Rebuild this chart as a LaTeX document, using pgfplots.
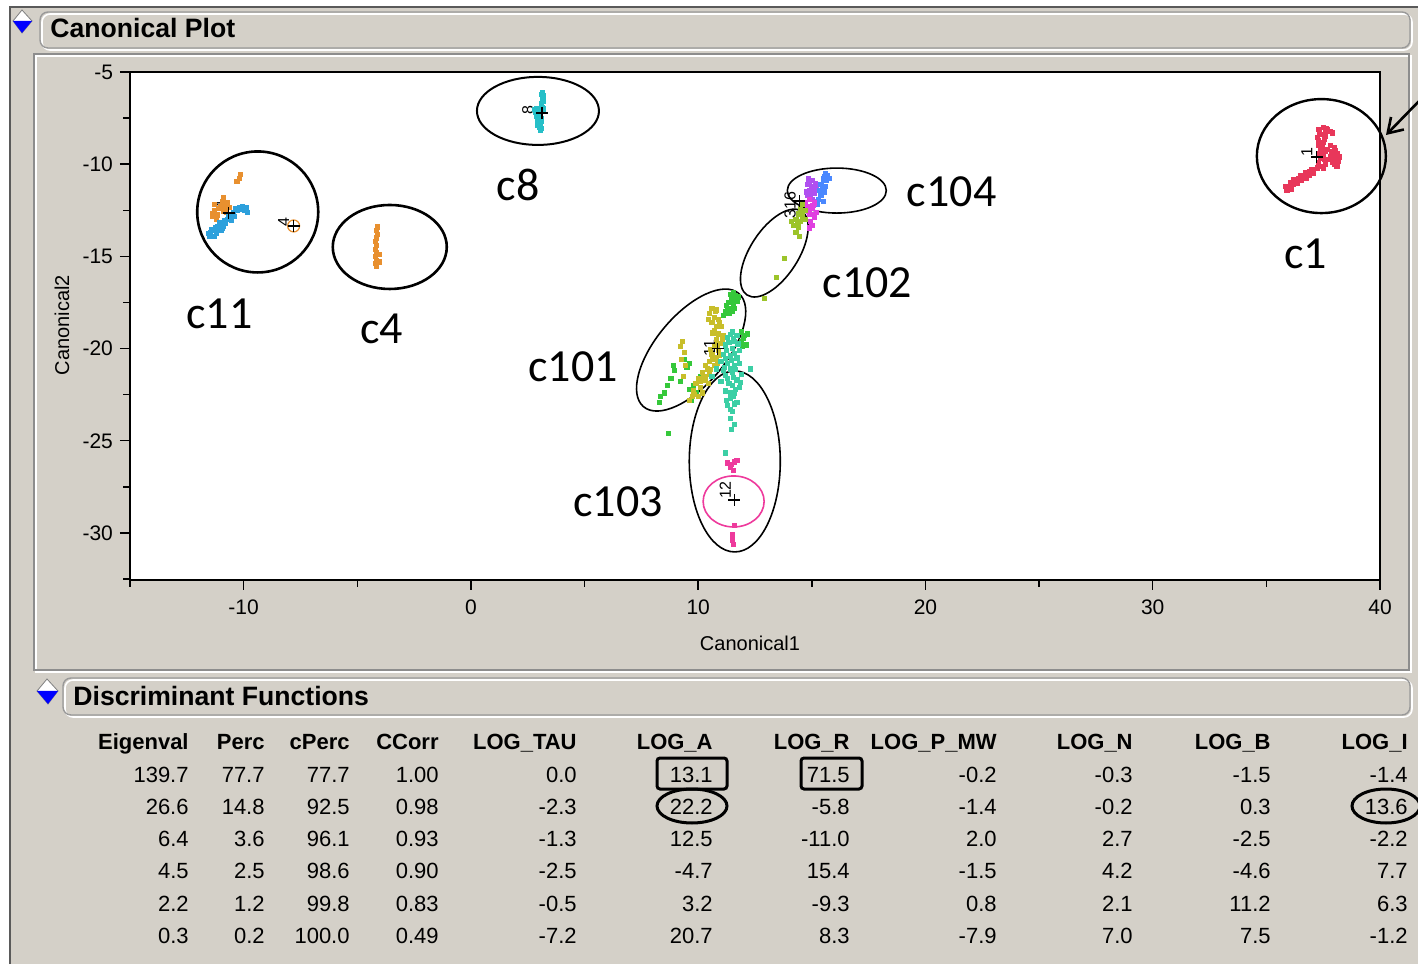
\documentclass[border=0pt]{standalone}
\usepackage{fontspec}
\setmainfont{Liberation Sans}
\newfontfamily\calib{Carlito}
\usepackage{pgfplots}
\pgfplotsset{compat=1.18}
\usetikzlibrary{shapes.geometric,arrows.meta}
\definecolor{jmpgray}{HTML}{D4D0C8}
\definecolor{jmpdark}{HTML}{808080}
\definecolor{jmpblue}{HTML}{0000FF}
\definecolor{cRed}{HTML}{E8375A}
\definecolor{cOrange}{HTML}{E8902F}
\definecolor{cBlue}{HTML}{2DA0DC}
\definecolor{cCyan}{HTML}{26BFC8}
\definecolor{cPurple}{HTML}{B050F0}
\definecolor{cBlue2}{HTML}{4A88FF}
\definecolor{cMagenta}{HTML}{E040E0}
\definecolor{cYgreen}{HTML}{9CC42A}
\definecolor{cGreen}{HTML}{35C83A}
\definecolor{cOlive}{HTML}{C8BE2A}
\definecolor{cTeal}{HTML}{3CCFA5}
\definecolor{cPink}{HTML}{EE3A9C}
\newcommand{\tabfont}{\fontsize{11}{13}\selectfont}
\newcommand{\annfont}{\calib\fontsize{23}{25}\selectfont}
\begin{document}
\begin{tikzpicture}
\useasboundingbox (0,0) rectangle (709pt,482pt);
\fill[white] (0,0) rectangle (709pt,482pt);
\begin{scope}[x=0.5pt,y=-0.5pt,shift={(0pt,482pt)}]
  \fill[jmpgray] (10,7) rectangle (1418,964);
  \draw[line width=1pt, color=jmpdark!70!black] (10,964) -- (10,7) -- (1418,7);
  % header 1
  \draw[rounded corners=4pt, draw=white, line width=0.8pt] (42,14) rectangle (1412,50);
  \draw[rounded corners=4pt, draw=jmpdark!80, line width=0.7pt] (40,12) rectangle (1410,48);
  \node[anchor=base west, inner sep=0pt, font=\bfseries\fontsize{13.3}{15}\selectfont] at (50,38) {Canonical Plot};
  % icon 1
  \filldraw[fill=white, draw=jmpdark, line width=0.4pt] (22,10) -- (32,21) -- (22,33) -- (13,21) -- cycle;
  \fill[jmpblue] (13,21) -- (32,21) -- (22,33) -- cycle;
  % plot panel
  \draw[draw=white, line width=1pt] (36,56) rectangle (1411,672);
  \draw[draw=jmpdark!90, line width=0.8pt] (34,54) rectangle (1409,670);
  % header 2
  \draw[rounded corners=4pt, draw=white, line width=0.8pt] (65,680) rectangle (1412,717);
  \draw[rounded corners=4pt, draw=jmpdark!80, line width=0.7pt] (63,678) rectangle (1410,715);
  \node[anchor=base west, inner sep=0pt, font=\bfseries\fontsize{13.3}{15}\selectfont] at (73,706) {Discriminant Functions};
  \filldraw[fill=white, draw=jmpdark, line width=0.4pt] (47,679) -- (58,691) -- (48,704) -- (37,691) -- cycle;
  \fill[jmpblue] (37,691) -- (58,691) -- (48,704) -- cycle;
  % table headers
  \def\colpos{{189,265,350,439,577,713,850,997,1133,1271,1408}}
  \foreach \h [count=\i] in {Eigenval,Perc,cPerc,CCorr,LOG\_TAU,LOG\_A,LOG\_R,LOG\_P\_MW,LOG\_N,LOG\_B,LOG\_I} {
    \pgfmathsetmacro\xx{\colpos[\i-1]}
    \node[anchor=base east, inner sep=0pt, font=\bfseries\tabfont] at (\xx,750) {\h};
  }
  \foreach \v [count=\i] in {139.7,77.7,77.7,1.00,0.0,13.1,71.5,-0.2,-0.3,-1.5,-1.4} {
    \pgfmathsetmacro\xx{\colpos[\i-1]}
    \node[anchor=base east, inner sep=0pt, font=\tabfont] at (\xx,782) {\v};
  }
  \foreach \v [count=\i] in {26.6,14.8,92.5,0.98,-2.3,22.2,-5.8,-1.4,-0.2,0.3,13.6} {
    \pgfmathsetmacro\xx{\colpos[\i-1]}
    \node[anchor=base east, inner sep=0pt, font=\tabfont] at (\xx,814) {\v};
  }
  \foreach \v [count=\i] in {6.4,3.6,96.1,0.93,-1.3,12.5,-11.0,2.0,2.7,-2.5,-2.2} {
    \pgfmathsetmacro\xx{\colpos[\i-1]}
    \node[anchor=base east, inner sep=0pt, font=\tabfont] at (\xx,846) {\v};
  }
  \foreach \v [count=\i] in {4.5,2.5,98.6,0.90,-2.5,-4.7,15.4,-1.5,4.2,-4.6,7.7} {
    \pgfmathsetmacro\xx{\colpos[\i-1]}
    \node[anchor=base east, inner sep=0pt, font=\tabfont] at (\xx,878) {\v};
  }
  \foreach \v [count=\i] in {2.2,1.2,99.8,0.83,-0.5,3.2,-9.3,0.8,2.1,11.2,6.3} {
    \pgfmathsetmacro\xx{\colpos[\i-1]}
    \node[anchor=base east, inner sep=0pt, font=\tabfont] at (\xx,911) {\v};
  }
  \foreach \v [count=\i] in {0.3,0.2,100.0,0.49,-7.2,20.7,8.3,-7.9,7.0,7.5,-1.2} {
    \pgfmathsetmacro\xx{\colpos[\i-1]}
    \node[anchor=base east, inner sep=0pt, font=\tabfont] at (\xx,943) {\v};
  }
  % table highlights
  \draw[line width=1.5pt, rounded corners=1.5pt] (657,758) rectangle (727,789);
  \draw[line width=1.5pt, rounded corners=1.5pt] (801,758) rectangle (862,789);
  \draw[line width=1.5pt] (692,806) ellipse [x radius=35, y radius=17];
  \draw[line width=1.5pt] (1386,806) ellipse [x radius=34, y radius=17];
  % arrow
  \draw[line width=1.3pt, -{Straight Barb[length=7pt,width=9pt]}] (1422,98) -- (1386,135);
\end{scope}

\begin{axis}[at={(65pt,192pt)}, anchor=south west, scale only axis,
  width=625pt, height=254pt,
  xmin=-15, xmax=40, ymin=-32.55, ymax=-5,
  axis background/.style={fill=white},
  axis line style={black, line width=0.8pt},
  xtick={-10,0,10,20,30,40}, minor xtick={-15,-5,5,15,25,35},
  ytick={-30,-25,-20,-15,-10,-5}, minor ytick={-32.5,-27.5,-22.5,-17.5,-12.5,-7.5},
  tick pos=left, tick align=outside, major tick length=5pt, minor tick length=3.5pt,
  tick style={black, line width=0.7pt},
  /pgf/number format/assume math mode=true,
  ticklabel style={font=\fontsize{10.5}{12}\selectfont},
  xticklabel style={yshift=-1.5pt},
  xlabel={Canonical1}, ylabel={Canonical2},
  label style={font=\fontsize{10}{12}\selectfont},
  xlabel style={at={(axis description cs:0.496,-0.124)}, anchor=center},
  ylabel style={at={(axis description cs:-0.0544,0.502)}, anchor=center},
  clip=false,
  only marks, mark=square*, mark size=1.05pt,
]
% c1 red
\addplot[cRed, mark=square*] coordinates {
(37.3,-8.1)(37.5,-8.0)(37.7,-8.1)(37.9,-8.3)(37.4,-8.4)(37.6,-8.5)(37.3,-8.7)(37.5,-8.8)
(37.3,-9.0)(37.4,-9.2)(37.3,-9.4)(37.5,-9.5)(37.4,-9.7)(37.3,-9.9)(37.4,-10.1)(37.6,-10.0)
(37.8,-9.0)(38.0,-9.1)(37.9,-9.3)(38.1,-9.4)(37.8,-9.6)(38.0,-9.7)(38.2,-9.6)(37.9,-9.9)
(38.1,-10.1)(37.7,-9.2)(37.6,-8.3)(37.8,-8.2)
(37.25,-8.55)(37.55,-8.65)(37.45,-9.05)(37.6,-9.3)(37.55,-9.75)(37.5,-10.2)(37.85,-9.45)
(38.05,-9.25)(37.95,-9.75)(38.15,-9.85)(38.0,-10.0)(37.7,-9.75)(37.25,-10.2)(37.35,-8.25)(37.65,-8.05)
(35.9,-11.4)(36.0,-11.2)(36.1,-11.0)(36.2,-11.1)(36.3,-10.9)(36.4,-10.8)(36.5,-10.6)
(36.6,-10.7)(36.8,-10.5)(36.9,-10.4)(37.0,-10.3)(36.9,-10.6)(36.0,-11.3)(36.5,-10.9)
(36.05,-11.0)(36.2,-10.85)(36.35,-11.05)(36.55,-10.85)(36.7,-10.45)(36.75,-10.75)(37.05,-10.5)
(35.85,-11.2)(36.1,-11.35)
};
% c8 cyan
\addplot[cCyan, mark=square*] coordinates {
(3.15,-6.1)(3.2,-6.3)(3.15,-6.5)(3.1,-6.7)(3.15,-6.9)(3.1,-7.1)(3.05,-7.3)(3.1,-7.5)
(3.0,-7.6)(3.05,-7.8)(3.0,-8.0)(3.05,-8.15)(2.9,-7.0)(2.85,-7.2)(2.9,-7.4)(3.2,-7.0)(2.95,-7.7)
(3.1,-6.2)(3.2,-6.6)(3.1,-6.85)(3.0,-7.45)(3.1,-7.7)(2.95,-7.9)(3.1,-8.05)(2.8,-7.05)
};
% c4 and c11 orange
\addplot[cOrange, mark=square*] coordinates {
(-4.1,-13.4)(-4.15,-13.6)(-4.1,-13.8)(-4.15,-14.0)(-4.2,-14.2)(-4.15,-14.4)(-4.2,-14.6)
(-4.15,-14.8)(-4.2,-15.0)(-4.15,-15.2)(-4.2,-15.4)(-4.15,-15.55)(-4.05,-14.9)(-4.05,-15.3)
(-10.15,-10.55)(-10.2,-10.75)(-10.3,-10.95)
(-10.9,-11.8)(-10.95,-12.0)(-10.8,-12.2)(-10.85,-12.4)(-10.7,-12.1)(-11.0,-12.3)(-10.75,-12.6)
(-11.3,-12.5)(-11.35,-12.8)(-11.2,-13.0)(-11.3,-12.2)
(-11.1,-12.4)(-10.95,-12.15)(-10.65,-12.35)(-11.35,-12.65)(-11.15,-12.75)(-10.9,-12.55)
};
% c11 blue
\addplot[cBlue, mark=square*] coordinates {
(-11.5,-13.9)(-11.45,-13.7)(-11.3,-13.6)(-11.2,-13.75)(-11.15,-13.4)(-11.0,-13.3)(-10.95,-13.5)
(-10.8,-13.2)(-10.7,-13.0)(-10.6,-12.9)(-10.5,-12.75)(-10.45,-12.6)(-10.3,-12.5)(-10.2,-12.35)
(-10.1,-12.45)(-9.95,-12.5)(-9.85,-12.6)(-10.05,-12.3)(-11.3,-13.9)(-11.0,-13.6)
(-11.4,-13.55)(-11.25,-13.45)(-11.05,-13.15)(-10.9,-13.35)(-10.85,-13.05)(-10.65,-12.75)
(-10.55,-13.05)(-10.4,-12.85)(-10.35,-12.4)(-10.0,-12.4)(-9.9,-12.35)(-11.55,-13.75)(-11.1,-13.55)
};
% c104 purple
\addplot[cPurple, mark=square*] coordinates {
(14.85,-10.8)(15.0,-10.9)(14.8,-11.1)(15.0,-11.2)(15.2,-11.3)(14.9,-11.4)(15.1,-11.6)
(14.8,-11.7)(15.0,-11.9)(15.2,-12.0)(14.75,-11.5)(15.15,-11.05)(14.9,-11.0)(15.1,-11.4)(14.95,-11.65)
};
% c104 blue
\addplot[cBlue2, mark=square*] coordinates {
(15.6,-10.5)(15.7,-10.6)(15.5,-10.8)(15.65,-10.9)(15.4,-11.1)(15.6,-11.2)(15.35,-11.4)
(15.55,-11.5)(15.4,-11.7)(15.3,-11.9)(15.5,-12.0)(15.25,-12.2)(15.75,-10.75)(15.45,-11.3)(15.55,-10.65)
};
% c104 magenta
\addplot[cMagenta, mark=square*] coordinates {
(14.9,-11.9)(15.1,-12.1)(14.8,-12.3)(15.0,-12.4)(15.2,-12.6)(14.9,-12.7)(15.1,-12.9)
(14.95,-13.1)(15.0,-13.3)(14.9,-13.45)(14.7,-12.1)(15.05,-12.25)(14.85,-12.55)(15.1,-12.75)
};
% c102 yellow-green
\addplot[cYgreen, mark=square*] coordinates {
(14.6,-12.2)(14.5,-12.4)(14.7,-12.5)(14.4,-12.7)(14.6,-12.8)(14.3,-13.0)(14.5,-13.1)
(14.7,-13.0)(14.2,-13.3)(14.4,-13.4)(14.3,-13.7)(14.45,-13.9)(14.1,-13.1)(14.55,-12.6)(14.35,-13.25)
(13.79,-15.09)(13.44,-16.12)(12.91,-17.26)
};
% c101 green
\addplot[cGreen, mark=square*] coordinates {
(11.55,-16.95)(11.65,-17.1)(11.45,-17.2)(11.6,-17.35)(11.35,-17.5)(11.55,-17.6)(11.3,-17.8)
(11.2,-18.0)(11.5,-18.0)(11.1,-18.2)(11.9,-19.1)(12.05,-19.3)(12.15,-19.2)(11.9,-19.6)(12.1,-19.8)
(11.4,-17.05)(11.7,-17.45)(11.25,-17.65)(11.45,-17.85)(11.35,-18.1)(11.75,-17.2)(11.6,-17.8)
(12.0,-19.45)(11.95,-19.9)
(9.4,-20.6)(9.6,-20.8)(8.9,-20.9)(8.95,-21.2)(9.5,-21.0)(8.8,-21.6)(9.2,-21.8)(8.65,-22.0)
(8.5,-22.4)(8.35,-22.6)(8.3,-22.9)(9.6,-22.2)(9.8,-22.0)(9.9,-22.4)(9.7,-22.8)(10.1,-21.5)
(8.68,-24.58)
};
% c101 olive
\addplot[cOlive, mark=square*] coordinates {
(10.6,-17.8)(10.8,-17.9)(10.5,-18.1)(10.7,-18.3)(10.9,-18.4)(10.6,-18.6)(10.8,-18.8)
(10.7,-19.0)(10.9,-19.2)(11.1,-19.3)(10.8,-19.5)(11.0,-19.7)(10.7,-19.9)(10.9,-20.1)
(10.6,-20.3)(10.8,-20.5)(10.5,-20.7)(10.7,-20.9)(10.4,-21.1)(10.2,-21.3)(10.5,-21.4)
(10.0,-21.6)(10.3,-21.7)(9.9,-21.9)(10.1,-22.1)(9.8,-22.3)(10.0,-22.6)(9.6,-22.8)
(9.3,-19.6)(9.2,-19.9)(9.4,-20.2)(9.25,-20.6)(9.45,-20.9)(9.35,-21.5)
(10.75,-18.0)(10.95,-18.6)(10.65,-19.15)(11.05,-19.5)(10.85,-19.8)(10.55,-20.05)(10.95,-20.35)
(10.65,-20.6)(10.85,-20.8)(10.3,-20.9)(10.55,-21.15)(10.25,-21.5)(10.1,-21.8)(10.45,-21.9)
(9.85,-22.5)(10.2,-22.4)(9.75,-22.6)(11.0,-18.8)(10.45,-18.4)
};
% c101/c103 teal
\addplot[cTeal, mark=square*] coordinates {
(11.5,-19.1)(11.7,-19.3)(11.3,-19.4)(11.6,-19.6)(11.2,-19.8)(11.5,-20.0)(11.8,-20.1)
(11.1,-20.3)(11.4,-20.4)(11.7,-20.5)(11.0,-20.7)(11.3,-20.8)(11.6,-20.9)(10.8,-21.1)
(11.1,-21.2)(11.5,-21.3)(11.9,-21.4)(11.3,-21.6)(11.7,-21.7)(11.0,-21.8)(11.5,-22.0)
(11.8,-22.1)(11.2,-22.3)(11.6,-22.4)(11.4,-22.7)(11.7,-22.9)(11.3,-23.1)(11.5,-23.4)
(11.4,-23.8)(11.6,-24.1)(11.45,-24.4)(11.19,-25.66)(12.3,-21.1)(10.6,-21.5)
(11.4,-19.25)(11.55,-19.45)(11.35,-19.65)(11.75,-19.75)(11.25,-20.1)(11.6,-20.25)(11.2,-20.55)
(11.45,-20.65)(11.8,-20.8)(11.15,-21.0)(11.4,-21.1)(11.65,-21.15)(11.2,-21.45)(11.55,-21.55)
(11.85,-21.85)(11.35,-21.9)(11.65,-22.2)(11.4,-22.4)(11.55,-22.6)(11.25,-22.8)(11.6,-23.0)(11.4,-23.3)
};
% c103 pink
\addplot[cPink, mark=square*] coordinates {
(11.3,-26.2)(11.45,-26.3)(11.6,-26.15)(11.4,-26.45)(11.55,-26.6)(11.7,-26.05)
(11.6,-29.6)(11.5,-30.1)(11.5,-30.4)(11.55,-30.6)
};
% group means
\addplot[black, mark=+, mark size=3pt, mark options={line width=0.6pt}] coordinates {
(37.22,-9.61)(-10.66,-12.65)(-7.80,-13.35)(3.13,-7.22)(14.45,-12.0)(10.85,-20.0)(11.59,-28.21)
};
% JMP group circles
\node[draw=cPink, line width=0.8pt, ellipse, minimum width=30.5pt, minimum height=25.5pt, inner sep=0pt] at (axis cs:11.56,-28.29) {};
\node[draw=cOrange, line width=0.6pt, circle, minimum size=6pt, inner sep=0pt] at (axis cs:-7.80,-13.35) {};
% group numbers
\node[rotate=90, font=\fontsize{8}{9}\selectfont, inner sep=0pt] at (axis cs:36.78,-9.34) {1};
\node[rotate=90, font=\fontsize{8}{9}\selectfont, inner sep=0pt] at (axis cs:-11.01,-12.21) {4};
\node[rotate=90, font=\fontsize{8}{9}\selectfont, inner sep=0pt] at (axis cs:-8.24,-13.13) {4};
\node[rotate=90, font=\fontsize{8}{9}\selectfont, inner sep=0pt] at (axis cs:2.51,-7.06) {8};
\node[rotate=90, font=\fontsize{8}{9}\selectfont, inner sep=0pt] at (axis cs:14.05,-12.2) {316};
\node[rotate=90, font=\fontsize{8}{9}\selectfont, inner sep=0pt] at (axis cs:10.5,-19.97) {11};
\node[rotate=90, font=\fontsize{8}{9}\selectfont, inner sep=0pt] at (axis cs:11.19,-27.67) {12};
% annotation ellipses
\node[draw, line width=1.3pt, ellipse, minimum width=60.5pt, minimum height=60.5pt, inner sep=0pt] at (axis cs:-9.38,-12.59) {};
\node[draw, line width=1.3pt, ellipse, minimum width=57pt, minimum height=42pt, inner sep=0pt] at (axis cs:-3.57,-14.49) {};
\node[draw, line width=1pt, ellipse, minimum width=61pt, minimum height=34pt, inner sep=0pt] at (axis cs:2.95,-7.11) {};
\node[draw, line width=1.2pt, ellipse, minimum width=64.5pt, minimum height=57pt, inner sep=0pt] at (axis cs:37.42,-9.56) {};
\node[draw, line width=0.8pt, ellipse, minimum width=49.5pt, minimum height=22.5pt, inner sep=0pt] at (axis cs:16.10,-11.43) {};
\node[draw, line width=0.8pt, ellipse, minimum width=50pt, minimum height=24pt, inner sep=0pt, rotate=57] at (axis cs:13.35,-14.82) {};
\node[draw, line width=0.8pt, ellipse, minimum width=74pt, minimum height=35pt, inner sep=0pt, rotate=50] at (axis cs:9.69,-20.08) {};
\node[draw, line width=0.8pt, ellipse, minimum width=45.5pt, minimum height=90.5pt, inner sep=0pt] at (axis cs:11.61,-26.12) {};
% annotation labels
\node[font=\annfont, inner sep=0pt] at (axis cs:-11.06,-18.12) {c11};
\node[font=\annfont, inner sep=0pt] at (axis cs:-3.92,-18.94) {c4};
\node[font=\annfont, inner sep=0pt] at (axis cs:2.07,-11.13) {c8};
\node[font=\annfont, inner sep=0pt] at (axis cs:21.15,-11.51) {c104};
\node[font=\annfont, inner sep=0pt] at (axis cs:36.74,-14.87) {c1};
\node[font=\annfont, inner sep=0pt] at (axis cs:17.44,-16.44) {c102};
\node[font=\annfont, inner sep=0pt] at (axis cs:4.49,-21.0) {c101};
\node[font=\annfont, inner sep=0pt] at (axis cs:6.48,-28.32) {c103};
\end{axis}
\end{tikzpicture}
\end{document}
